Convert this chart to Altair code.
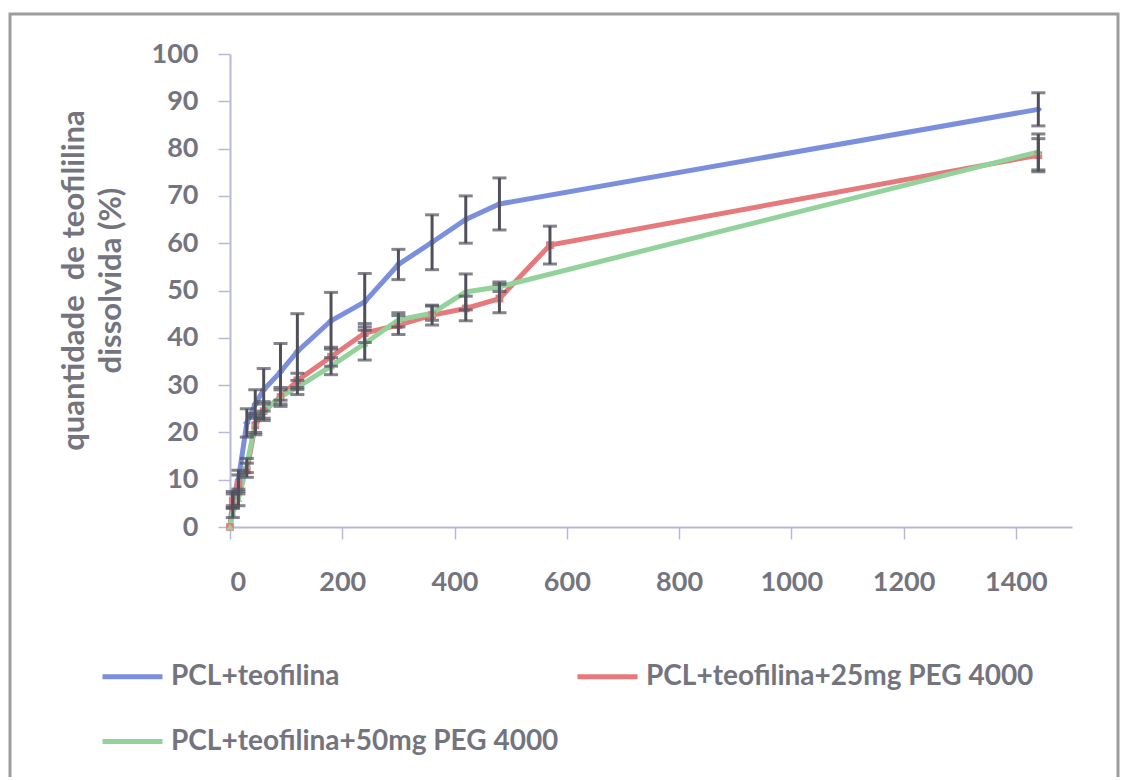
import altair as alt
import pandas as pd

series_names = ["PCL+teofilina", "PCL+teofilina+25mg PEG 4000", "PCL+teofilina+50mg PEG 4000"]
series_colors = ["#7b8fdc", "#e5797b", "#93d39b"]
series_shapes = ["diamond", "square", "triangle-up"]

t_blue = [0, 5, 15, 30, 45, 60, 90, 120, 180, 240, 300, 360, 420, 480, 1440]
v_blue = [0, 6, 10, 22, 26, 29, 32.8, 37.1, 43.6, 47.6, 55.5, 60.2, 65.0, 68.3, 88.3]
e_blue = [0, 1.5, 2, 3, 3, 4.5, 6, 8, 6, 6, 3.2, 5.8, 5, 5.5, 3.5]

t_red = [0, 5, 15, 30, 45, 60, 90, 120, 180, 240, 300, 360, 420, 480, 570, 1440]
v_red = [0, 5.5, 9, 12, 21.5, 24.5, 27.5, 31, 36, 41, 42.7, 44.8, 46.2, 48.3, 59.6, 78.6]
e_red = [0, 1.5, 2, 1.5, 2, 2, 2, 1.5, 2, 2, 2, 2.1, 2.6, 3, 4, 3.5]

t_green = [0, 5, 15, 30, 45, 60, 90, 120, 180, 240, 300, 360, 420, 480, 1440]
v_green = [0, 3, 6, 13, 22, 24.5, 27.5, 29.5, 34, 38.8, 43.8, 45.2, 49.7, 50.8, 79.3]
e_green = [0, 1, 1.5, 1.5, 2, 1.5, 1.5, 1.5, 1.8, 3.5, 1.5, 1.5, 3.8, 1, 3.8]

x_ticks = [0, 200, 400, 600, 800, 1000, 1200, 1400]
y_ticks = [0, 10, 20, 30, 40, 50, 60, 70, 80, 90, 100]
y_title = ["quantidade\u00a0 de teofililina", "dissolvida (%)"]

rows = []
for name, ts, vs, es in [
    (series_names[0], t_blue, v_blue, e_blue),
    (series_names[1], t_red, v_red, e_red),
    (series_names[2], t_green, v_green, e_green),
]:
    for t, v, e in zip(ts, vs, es):
        rows.append({"serie": name, "mk": name, "t": t, "v": v, "lo": v - e, "hi": v + e})
df = pd.DataFrame(rows)

FONT = "Lato"
TXT = "#74747f"
AX = "#b8b8d8"

xs = alt.X("t:Q", scale=alt.Scale(domain=[0, 1500], nice=False),
           axis=alt.Axis(values=x_ticks, format="d", title=None, grid=False, domainColor=AX, tickColor=AX,
                         tickSize=12, domainWidth=2, tickWidth=1.5, labelPadding=30,
                         labelFontSize=27, labelColor=TXT, labelFont=FONT, labelFontWeight="bold"))
ys = alt.Y("v:Q", scale=alt.Scale(domain=[0, 100], nice=False),
           axis=alt.Axis(values=y_ticks, grid=False, domainColor=AX, tickColor=AX,
                         tickSize=12, domainWidth=2, tickWidth=1.5, labelPadding=20,
                         labelFontSize=27, labelColor=TXT, labelFont=FONT, labelFontWeight="bold",
                         title=y_title,
                         titleFont=FONT, titleFontSize=31, titleColor=TXT, titleFontWeight="bold",
                         titlePadding=24, titleLineHeight=37, titleY=226))

color = alt.Color("serie:N", scale=alt.Scale(domain=series_names, range=series_colors),
                  legend=alt.Legend(title=None, orient="none", legendX=-130, legendY=590,
                                    direction="horizontal",
                                    columns=2, symbolType="stroke", symbolSize=3600,
                                    symbolStrokeWidth=5, labelFont=FONT, labelFontSize=28,
                                    labelFontWeight="bold", labelColor=TXT, labelOffset=6,
                                    rowPadding=18, columnPadding=8, labelLimit=600))

base = alt.Chart(df)

lines = base.mark_line(strokeWidth=5, clip=False).encode(
    x=xs, y=ys, color=color, detail="serie:N", order="t:Q"
)
points = base.mark_point(filled=True, size=60, opacity=1).encode(
    x="t:Q", y="v:Q",
    color=alt.Color("mk:N", scale=alt.Scale(domain=series_names, range=series_colors), legend=None),
    shape=alt.Shape("mk:N", scale=alt.Scale(domain=series_names, range=series_shapes), legend=None),
)
bar_color = "#50505c"
err = base.transform_filter("datum.hi > datum.lo").mark_rule(color=bar_color, strokeWidth=3).encode(
    x="t:Q", y="lo:Q", y2="hi:Q"
)
cap_hi = base.transform_filter("datum.hi > datum.lo").mark_tick(color=bar_color, thickness=3, size=14, orient="horizontal").encode(
    x="t:Q", y="hi:Q"
)
cap_lo = base.transform_filter("datum.hi > datum.lo").mark_tick(color=bar_color, thickness=3, size=14, orient="horizontal").encode(
    x="t:Q", y="lo:Q"
)

frame = alt.Chart(pd.DataFrame({"a": [0]})).mark_rect(
    filled=False, stroke="#9c9c9c", strokeWidth=3, clip=False
).encode(x=alt.value(-220), x2=alt.value(888), y=alt.value(-40), y2=alt.value(740))

chart = alt.layer(frame, lines, points, err, cap_hi, cap_lo).resolve_scale(
    color="independent", shape="independent"
).properties(
    width=842, height=473,
    autosize=alt.AutoSizeParams(type="none"),
    padding={"left": 222, "top": 46, "right": 50, "bottom": 250},
    background="white",
).configure_view(stroke=None)

chart.save("out.html", embed_options={"renderer": "svg", "actions": False})
